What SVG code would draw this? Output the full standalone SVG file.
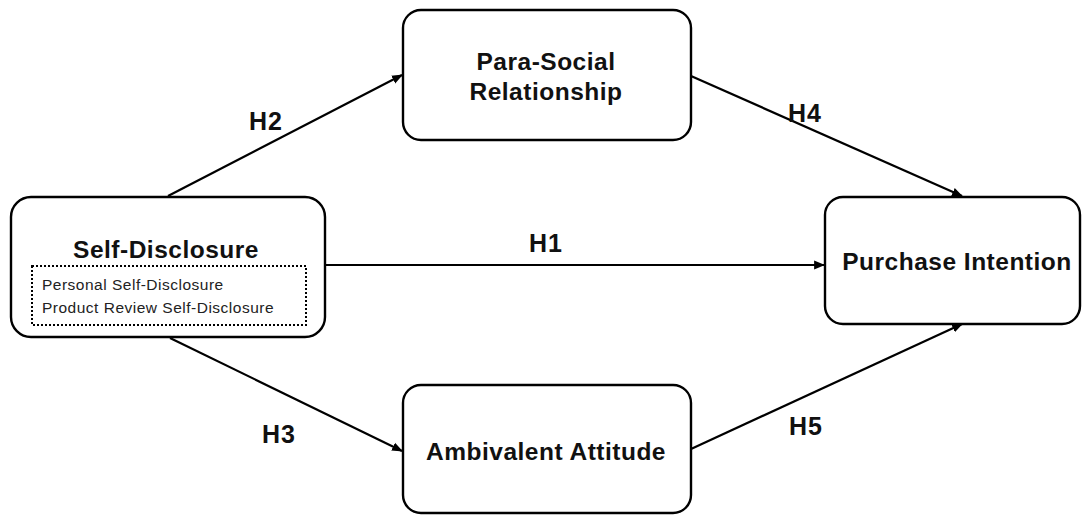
<svg xmlns="http://www.w3.org/2000/svg" width="1084" height="516" viewBox="0 0 1084 516">
<style>
.box{fill:#fff;stroke:#000;stroke-width:2.4}
.t{font-family:"Liberation Sans",Arial,sans-serif;font-weight:bold;font-size:24.5px;letter-spacing:0.5px;fill:#111;text-anchor:middle}
.s{font-family:"Liberation Sans",Arial,sans-serif;font-size:15.5px;letter-spacing:0.5px;fill:#222}
.lbl{font-family:"Liberation Sans",Arial,sans-serif;font-weight:bold;font-size:25px;letter-spacing:1px;fill:#111}
.c{stroke:#000;stroke-width:2.2;fill:none;marker-end:url(#ah)}
</style>
<defs>
<marker id="ah" viewBox="0 0 10 10" refX="9" refY="5" markerWidth="5" markerHeight="5" orient="auto" markerUnits="strokeWidth">
<path d="M0,1 L10,5 L0,9 z" fill="#000"/>
</marker>
</defs>
<rect width="1084" height="516" fill="#fff"/>
<g id="connectors">
<line class="c" x1="168" y1="196" x2="402" y2="75"/>
<line class="c" x1="691" y1="76" x2="962" y2="196"/>
<line class="c" x1="325" y1="265" x2="824" y2="265"/>
<line class="c" x1="170" y1="338" x2="402" y2="451"/>
<line class="c" x1="691" y1="449" x2="962" y2="324"/>
<text class="lbl" x="249" y="130">H2</text>
<text class="lbl" x="788" y="122">H4</text>
<text class="lbl" x="529" y="252">H1</text>
<text class="lbl" x="262" y="443">H3</text>
<text class="lbl" x="789" y="435">H5</text>
</g>
<g id="self-disclosure">
<rect class="box" x="11" y="197" width="314" height="140" rx="20"/>
<text class="t" x="166" y="258">Self-Disclosure</text>
<rect x="32" y="266" width="274" height="59" fill="none" stroke="#000" stroke-width="2" stroke-dasharray="2,2"/>
<text class="s" x="42" y="290">Personal Self-Disclosure</text>
<text class="s" x="42" y="313">Product Review Self-Disclosure</text>
</g>
<g id="para-social">
<rect class="box" x="403" y="10" width="288" height="130" rx="18"/>
<text class="t" x="546" y="70">Para-Social</text>
<text class="t" x="546" y="100">Relationship</text>
</g>
<g id="ambivalent">
<rect class="box" x="403" y="385" width="288" height="128" rx="18"/>
<text class="t" x="546" y="460">Ambivalent Attitude</text>
</g>
<g id="purchase">
<rect class="box" x="825" y="197" width="255" height="127" rx="18"/>
<text class="t" x="957" y="270">Purchase Intention</text>
</g>
</svg>
